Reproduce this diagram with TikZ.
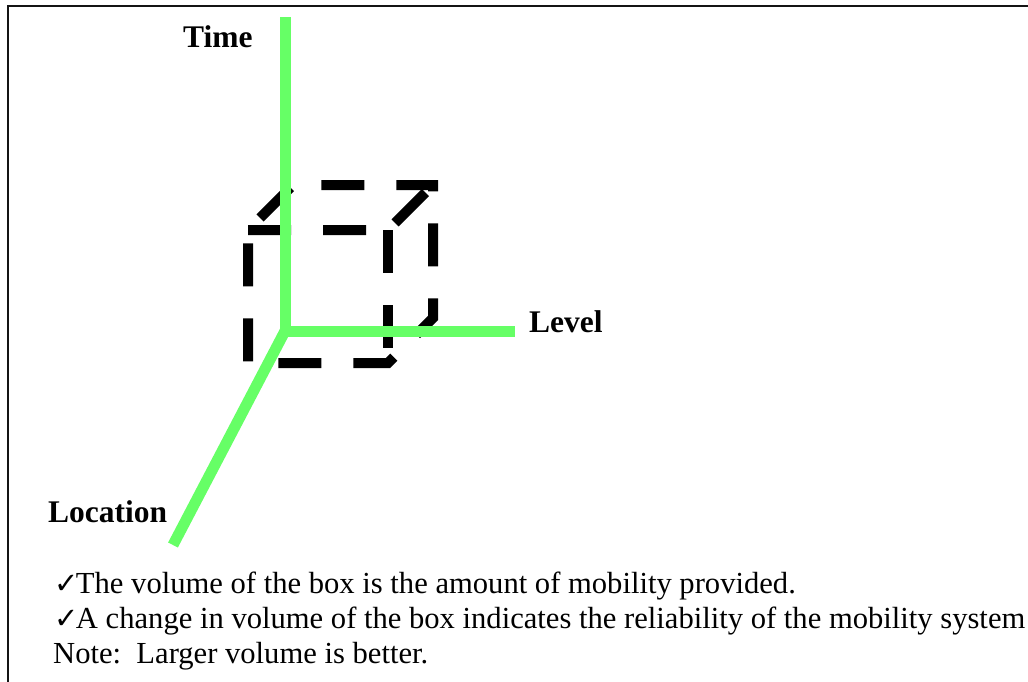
\documentclass[tikz,border=0pt]{standalone}
\usepackage{fontspec}
\setmainfont{Liberation Serif}
\newfontfamily\symfont{DejaVu Sans}
\definecolor{axisgreen}{RGB}{102,255,102}
\definecolor{framegray}{RGB}{20,20,20}
\newcommand{\chk}{{\symfont\fontsize{29}{30}\selectfont ✓}\hspace{-2.5pt}}
\begin{document}
\begin{tikzpicture}[x=1pt,y=-1pt,
  axis/.style={draw=axisgreen,line width=11pt},
  cubeline/.style={draw=black,line width=10pt,dash pattern=on 43pt off 32pt},
  axislabel/.style={anchor=base west,inner sep=0pt,font=\bfseries\fontsize{31.5}{36}\selectfont},
  bodytext/.style={anchor=base west,inner sep=0pt,font=\fontsize{30.6}{35}\selectfont},
  frameline/.style={draw=framegray,line width=2pt}]
\useasboundingbox (0,0) rectangle (1028,682);
% frame
\coordinate (fr1) at (7.5,682);
\coordinate (fr2) at (7.5,6);
\coordinate (fr3) at (1030,6);
\draw[frameline] (fr1) -- (fr2) -- (fr3);
% cube corners
\coordinate (ftl) at (248,230);
\coordinate (ftr) at (388,230);
\coordinate (fbr) at (388,363);
\coordinate (fbl) at (248,363);
\coordinate (btl) at (293,185);
\coordinate (btr) at (433,185);
\coordinate (bbr) at (433,318);
\draw[cubeline,dash phase=58pt] (ftl) -- (btl) -- (btr) -- (bbr) -- (fbr) -- (fbl) -- cycle;
\draw[cubeline] (ftl) -- (ftr) -- (btr);
\draw[cubeline] (ftr) -- (fbr);
% axes
\coordinate (o) at (285,331);
\coordinate (tEnd) at (285,17);
\coordinate (lvEnd) at (515,331);
\coordinate (locEnd) at (173,545);
\draw[axis] (o) -- (tEnd);
\draw[axis] (o) -- (lvEnd);
\draw[axis] (o) -- (locEnd);
% labels
\node[axislabel] (time) at (183,48) {Time};
\node[axislabel] (level) at (529,332) {Level};
\node[axislabel] (location) at (48,522) {Location};
% text
\node[bodytext] (t1) at (54,593) {\chk The volume of the box is the amount of mobility provided.};
\node[bodytext] (t2) at (54,628) {\chk A change in volume of the box indicates the reliability of the mobility system};
\node[bodytext] (t3) at (53,663) {Note:\ \ Larger volume is better.};
\end{tikzpicture}
\end{document}
